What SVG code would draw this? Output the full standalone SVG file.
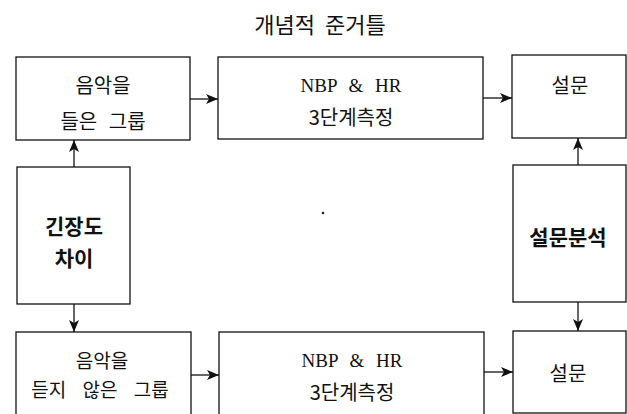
<svg xmlns="http://www.w3.org/2000/svg" width="627" height="414" viewBox="0 0 627 414">
<style>
.box{fill:#fff;stroke:#111;stroke-width:1.3}
.k{font-family:"Noto Sans CJK KR","Noto Sans",sans-serif;font-size:20px;fill:#111;text-anchor:middle;dominant-baseline:central}
.kb{font-family:"Noto Sans CJK KR","Noto Sans",sans-serif;font-size:21px;font-weight:bold;fill:#111;text-anchor:middle;dominant-baseline:central}
.l{font-family:"Liberation Serif",serif;font-size:19px;fill:#111;text-anchor:middle;dominant-baseline:central;word-spacing:7px}
.t{font-family:"Noto Sans CJK KR","Noto Sans",sans-serif;font-size:22px;fill:#111;text-anchor:middle;dominant-baseline:central;word-spacing:5px}
.c{stroke:#111;stroke-width:1.3;fill:none;marker-end:url(#ah)}
</style>
<defs>
<marker id="ah" viewBox="0 0 12 10" refX="12" refY="5" markerWidth="12" markerHeight="10" markerUnits="userSpaceOnUse" orient="auto">
<path d="M0,0 L12,5 L0,10 L3,5 Z" fill="#111"/>
</marker>
</defs>
<rect width="627" height="414" fill="#fff"/>
<text class="t" x="320" y="23">개념적 준거틀</text>

<g id="n_listen">
<rect class="box" x="16" y="57" width="174" height="83"/>
<text class="k" x="103" y="84">음악을</text>
<text class="k" x="103" y="120" style="word-spacing:7px">들은 그룹</text>
</g>
<g id="n_measure1">
<rect class="box" x="218" y="57" width="265" height="82"/>
<text class="l" x="351" y="85">NBP &amp; HR</text>
<text class="k" x="351" y="116">3단계측정</text>
</g>
<g id="n_survey1">
<rect class="box" x="512" y="55" width="114" height="83"/>
<text class="k" x="570" y="84">설문</text>
</g>
<g id="n_tension">
<rect class="box" x="17" y="167" width="113" height="137"/>
<text class="kb" x="74" y="225">긴장도</text>
<text class="kb" x="74" y="257">차이</text>
</g>
<g id="n_analysis">
<rect class="box" x="513" y="165" width="113" height="137"/>
<text class="kb" x="568" y="236">설문분석</text>
</g>
<g id="n_nolisten">
<rect class="box" x="16" y="332" width="175" height="90"/>
<text class="k" x="102" y="359" style="font-size:19px">음악을</text>
<text class="k" x="100" y="388" style="font-size:19px;word-spacing:12px">듣지 않은 그룹</text>
</g>
<g id="n_measure2">
<rect class="box" x="219" y="332" width="265" height="90"/>
<text class="l" x="352" y="360">NBP &amp; HR</text>
<text class="k" x="352" y="391">3단계측정</text>
</g>
<g id="n_survey2">
<rect class="box" x="513" y="331" width="113" height="82"/>
<text class="k" x="568" y="372">설문</text>
</g>
<circle cx="323" cy="213" r="1.2" fill="#111"/>

<g id="connectors">
<line class="c" x1="190" y1="99" x2="218" y2="99"/>
<line class="c" x1="483" y1="98" x2="512" y2="98"/>
<line class="c" x1="74" y1="167" x2="74" y2="140"/>
<line class="c" x1="74" y1="304" x2="74" y2="332"/>
<line class="c" x1="578" y1="165" x2="578" y2="138"/>
<line class="c" x1="578" y1="302" x2="578" y2="331"/>
<line class="c" x1="191" y1="375" x2="219" y2="375"/>
<line class="c" x1="484" y1="372" x2="513" y2="372"/>
</g>
</svg>
